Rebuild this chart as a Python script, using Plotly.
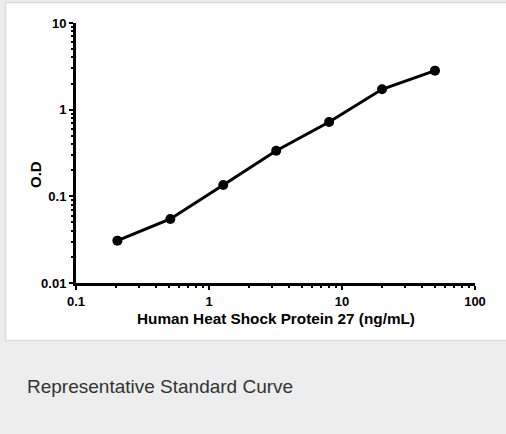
import plotly.graph_objects as go

# Data
concentration = [0.2048, 0.512, 1.28, 3.2, 8, 20, 50]
od_values = [0.0308, 0.0548, 0.135, 0.336, 0.721, 1.72, 2.82]

x_tickvals = [0.1, 1, 10, 100]
x_ticktext = ["0.1", "1", "10", "100"]
y_tickvals = [0.01, 0.1, 1, 10]
y_ticktext = ["0.01", "0.1", "1", "10"]

x_title = "Human Heat Shock Protein 27 (ng/mL)"
y_title = "O.D"
caption = "Representative Standard Curve"

W, H = 506, 434
L, R, T, B = 76, 31, 23, 151
PW, PH = W - L - R, H - T - B


def px_x(px):
    return (px - L) / PW


def px_y(py):
    return (H - B - py) / PH


x_minor = [m * 10 ** e for e in range(-1, 2) for m in range(2, 10)]
y_minor = [m * 10 ** e for e in range(-2, 1) for m in range(2, 10)]

FONT = "Liberation Sans, Arial, sans-serif"

fig = go.Figure()
fig.add_trace(go.Scatter(
    x=concentration, y=od_values, mode="lines+markers",
    line=dict(color="black", width=3),
    marker=dict(color="black", size=10),
    showlegend=False, hoverinfo="skip",
))

axis_common = dict(
    type="log", showgrid=False, zeroline=False,
    showline=True, linecolor="black", linewidth=3,
    ticks="outside", ticklen=4, tickwidth=2, tickcolor="black",
    tickfont=dict(family=FONT, size=13, color="black", weight="bold"),
)

fig.update_xaxes(
    range=[-1, 2], tickmode="array", tickvals=x_tickvals, ticktext=x_ticktext,
    minor=dict(tickmode="array", tickvals=x_minor, ticks="outside", ticklen=2,
               tickwidth=2, tickcolor="black"),
    **axis_common,
)
fig.update_yaxes(
    range=[-2, 1], tickmode="array", tickvals=y_tickvals, ticktext=y_ticktext,
    minor=dict(tickmode="array", tickvals=y_minor, ticks="outside", ticklen=2,
               tickwidth=2, tickcolor="black"),
    **axis_common,
)

shapes = [
    dict(type="rect", xref="paper", yref="paper", layer="below",
         x0=px_x(0), x1=px_x(W + 10), y0=px_y(H + 10), y1=px_y(-10),
         fillcolor="#ecedec", line=dict(width=0)),
    dict(type="rect", xref="paper", yref="paper", layer="below",
         x0=px_x(5.5), x1=px_x(W + 10), y0=px_y(340.5), y1=px_y(2.5),
         fillcolor="white", line=dict(color="#dcdcdc", width=1.5)),
]

annotations = [
    dict(text=y_title, xref="paper", yref="paper", x=px_x(36), y=px_y(175),
         textangle=-90, showarrow=False, xanchor="center", yanchor="middle",
         font=dict(family=FONT, size=15, color="black", weight="bold")),
    dict(text=x_title, xref="paper", yref="paper", x=px_x(276), y=px_y(318),
         showarrow=False, xanchor="center", yanchor="middle",
         font=dict(family=FONT, size=15.3, color="black", weight="bold")),
    dict(text=caption, xref="paper", yref="paper", x=px_x(25), y=px_y(386),
         showarrow=False, xanchor="left", yanchor="middle",
         font=dict(family=FONT, size=19, color="#333333")),
]

fig.update_layout(
    width=W, height=H, autosize=False,
    margin=dict(l=L, r=R, t=T, b=B, pad=0),
    paper_bgcolor="#ecedec", plot_bgcolor="white",
    shapes=shapes, annotations=annotations,
)

fig.write_html(
    "out.html",
    config={"displayModeBar": False},
    post_script="document.body.style.margin='0';document.body.style.padding='0';",
)
